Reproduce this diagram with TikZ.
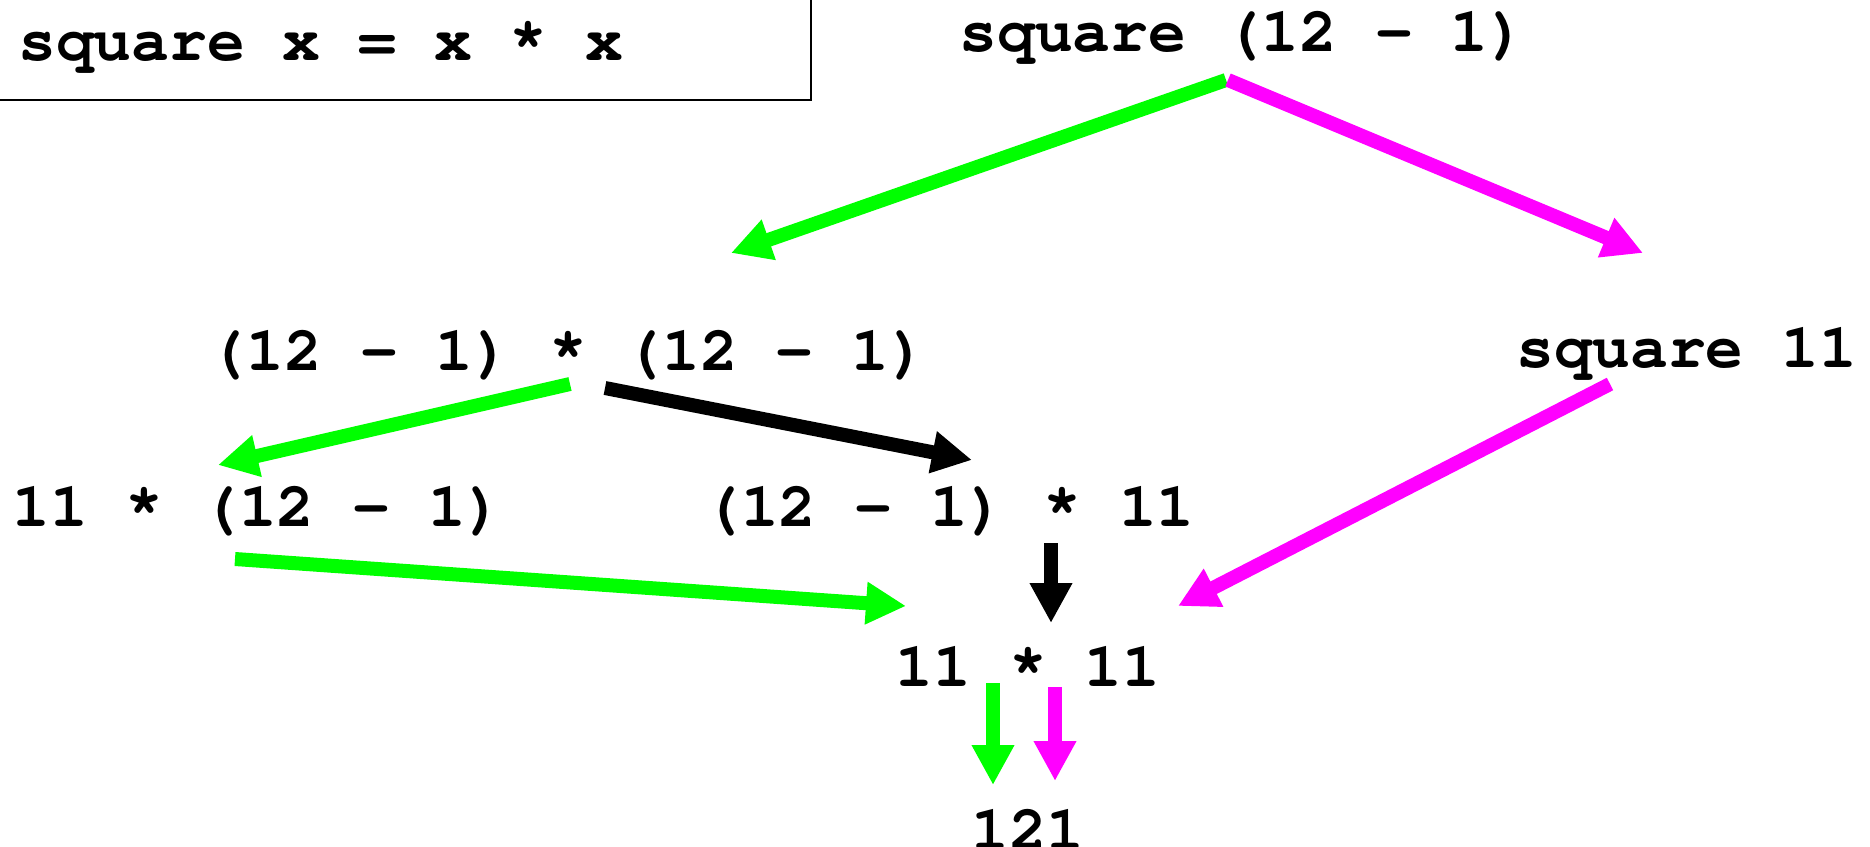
\documentclass[tikz,border=0pt]{standalone}
\usepackage{fontspec}
\newfontfamily\codefont{texgyrecursor-bold.otf}
\usetikzlibrary{arrows.meta}
\definecolor{grn}{HTML}{00FF00}
\definecolor{mag}{HTML}{FF00FF}
\tikzset{
  expr/.style={inner sep=0pt, anchor=base, font=\codefont\fontsize{63}{70}\selectfont},
  conn/.style={line width=14pt, -{Triangle[length=40pt,width=40pt]}},
}
\begin{document}
\begin{tikzpicture}[x=1pt,y=1pt]
\useasboundingbox (0,0) rectangle (1870,-846);
\draw[line width=2pt] (-10,10) rectangle (811,-100);
\node[expr, anchor=base west] (def) at (18,-60) {square x = x * x};
\node[expr] (top) at (1243,-51) {square (12 - 1)};
\node[expr] (mul) at (568,-370) {(12 - 1) * (12 - 1)};
\node[expr] (sq) at (1687,-367) {square 11};
\node[expr] (l) at (258,-526) {11 * (12 - 1)};
\node[expr] (r) at (949,-526) {(12 - 1) * 11};
\node[expr] (mm) at (1028,-686) {11 * 11};
\node[expr] (res) at (1028,-849) {121};
\draw[conn, grn] ([shift={(-17,-29)}]top.base) -- ([shift={(163,117)}]mul.base);
\draw[conn, mag] ([shift={(-15,-29)}]top.base) -- ([shift={(-44,114)}]sq.base);
\draw[conn, grn] ([shift={(2,-14)}]mul.base) -- ([shift={(-40,61)}]l.base);
\draw[conn, black] ([shift={(37,-18)}]mul.base) -- ([shift={(23,66)}]r.base);
\draw[conn, mag] ([shift={(-77,-17)}]sq.base) -- ([shift={(150,80)}]mm.base);
\draw[conn, grn] ([shift={(-23,-33)}]l.base) -- ([shift={(-122,80)}]mm.base);
\draw[conn, black] ([shift={(102,-17)}]r.base) -- ([shift={(23,63)}]mm.base);
\draw[conn, grn] ([shift={(-35,3)}]mm.base) -- ([shift={(-35,64)}]res.base);
\draw[conn, mag] ([shift={(27,-1)}]mm.base) -- ([shift={(27,68)}]res.base);
\end{tikzpicture}
\end{document}
